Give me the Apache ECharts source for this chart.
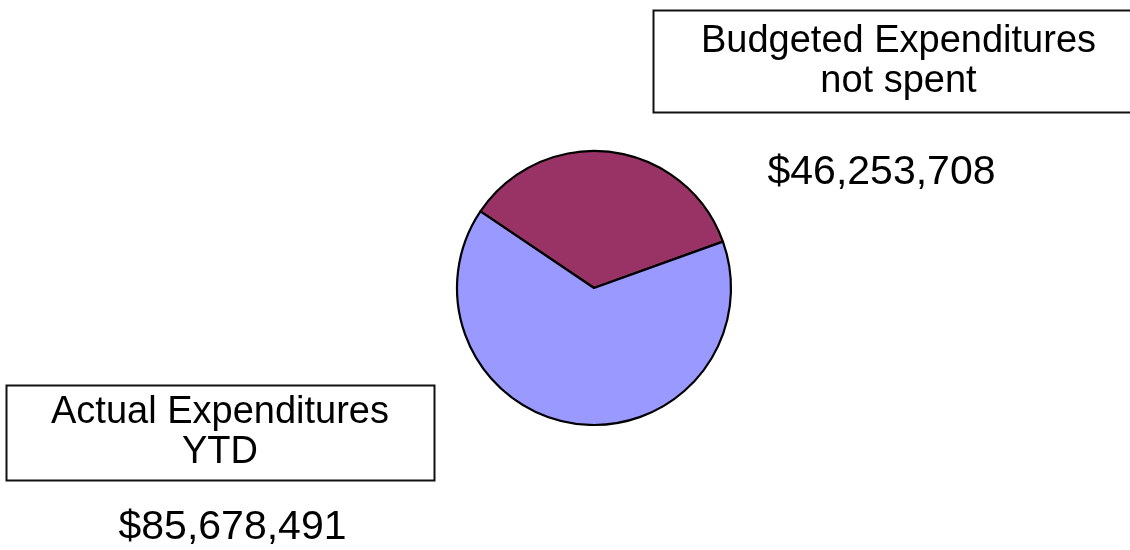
<!DOCTYPE html>
<html>
<head>
<meta charset="utf-8">
<script src="https://cdn.jsdelivr.net/npm/echarts@6/dist/echarts.min.js"></script>
<style>
html,body{margin:0;padding:0;background:#fff;}
#chart{width:1130px;height:550px;}
</style>
</head>
<body>
<div id="chart"></div>
<script>
var categories = ['Budgeted Expenditures\nnot spent', 'Actual Expenditures\nYTD'];
var values = [46253708, 85678491];
var colors = ['#993366', '#9999FF'];

function money(v) { return '$' + v.toLocaleString('en-US'); }

var FONT = '"Liberation Sans", Arial, sans-serif';
var chart = echarts.init(document.getElementById('chart'), null, {renderer: 'canvas'});

var option = {
  backgroundColor: '#ffffff',
  animation: false,
  series: [{
    type: 'pie',
    center: [594, 288],
    radius: [0, 137],
    startAngle: 146,
    clockwise: true,
    label: {show: false},
    labelLine: {show: false},
    itemStyle: {borderColor: '#000000', borderWidth: 2.2},
    emphasis: {disabled: true},
    data: values.map(function (v, i) {
      return {name: categories[i], value: v, itemStyle: {color: colors[i]}};
    })
  }],
  graphic: [
    {type: 'rect', shape: {x: 653.5, y: 10.5, width: 490, height: 102}, style: {fill: '#fff', stroke: '#111', lineWidth: 2}},
    {type: 'text', x: 898.5, y: 62, style: {text: categories[0], fontFamily: FONT, fontSize: 38, lineHeight: 40, fill: '#000', textAlign: 'center', textVerticalAlign: 'middle'}},
    {type: 'text', x: 881.5, y: 173, style: {text: money(values[0]), fontFamily: FONT, fontSize: 41, fill: '#000', textAlign: 'center', textVerticalAlign: 'middle'}},
    {type: 'rect', shape: {x: 6.5, y: 385.5, width: 428, height: 95}, style: {fill: '#fff', stroke: '#111', lineWidth: 2}},
    {type: 'text', x: 220, y: 433, style: {text: categories[1], fontFamily: FONT, fontSize: 38, lineHeight: 40, fill: '#000', textAlign: 'center', textVerticalAlign: 'middle'}},
    {type: 'text', x: 232.5, y: 527.5, style: {text: money(values[1]), fontFamily: FONT, fontSize: 41, fill: '#000', textAlign: 'center', textVerticalAlign: 'middle'}}
  ]
};
chart.setOption(option);
</script>
</body>
</html>
